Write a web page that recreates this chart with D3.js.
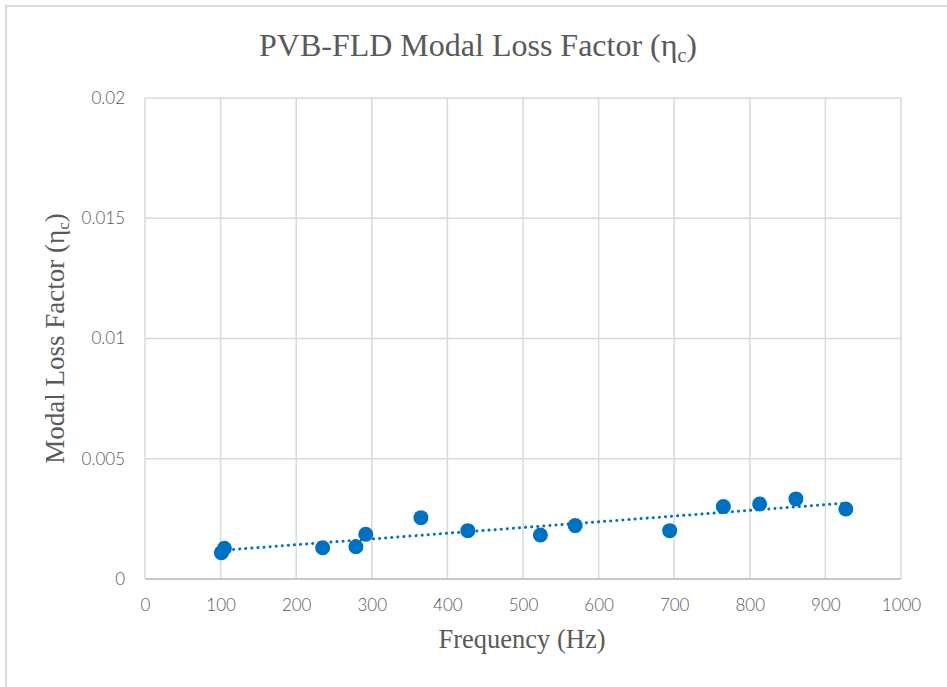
<!DOCTYPE html>
<html>
<head>
<meta charset="utf-8">
<script src="https://cdn.jsdelivr.net/npm/d3@7"></script>
<style>
  html, body { margin: 0; padding: 0; background: #fff; overflow: hidden; }
  svg { display: block; }
</style>
</head>
<body>
<script>
// ---- Data ----
const frequency = [101, 105, 235, 279, 292, 365, 427, 523, 569, 694, 765, 813, 861, 927];
const lossFactor = [0.00109, 0.00128, 0.00130, 0.00134, 0.00186, 0.00255, 0.00201, 0.00183, 0.00222, 0.00201, 0.00301, 0.00312, 0.00333, 0.00291];
const xTicks = [0, 100, 200, 300, 400, 500, 600, 700, 800, 900, 1000];
const yTicks = [0, 0.005, 0.01, 0.015, 0.02];
const yTickLabels = ["0", "0.005", "0.01", "0.015", "0.02"];
const titleText = "PVB-FLD Modal Loss Factor (η";
const titleSub = "c";
const xTitle = "Frequency (Hz)";
const yTitle = "Modal Loss Factor (η";

const W = 947, H = 687;
const margin = { left: 145, right: 46, top: 98, bottom: 108 };
const color = "#0070C0";
const textColor = "#595959";
const gridColor = "#d9d9d9";

const svg = d3.select("body").append("svg").attr("width", W).attr("height", H);

// chart border (only top/left visible in viewport)
svg.append("path")
  .attr("d", `M6,${H + 5} L6,6 L${W + 5},6`)
  .attr("fill", "none").attr("stroke", gridColor).attr("stroke-width", 2);

const x = d3.scaleLinear().domain([0, 1000]).range([margin.left, W - margin.right]);
const y = d3.scaleLinear().domain([0, 0.02]).range([H - margin.bottom, margin.top]);

// gridlines
svg.append("g").selectAll("line.v").data(xTicks).join("line")
  .attr("x1", d => x(d)).attr("x2", d => x(d))
  .attr("y1", y(0)).attr("y2", y(0.02))
  .attr("stroke", gridColor).attr("stroke-width", 1.5);
svg.append("g").selectAll("line.h").data(yTicks).join("line")
  .attr("x1", x(0)).attr("x2", x(1000))
  .attr("y1", d => y(d)).attr("y2", d => y(d))
  .attr("stroke", gridColor).attr("stroke-width", 1.5);
// bottom axis line
svg.append("line").attr("x1", x(0)).attr("x2", x(1000)).attr("y1", y(0)).attr("y2", y(0))
  .attr("stroke", "#bfbfbf").attr("stroke-width", 1.5);

// axes (labels only)
const xAxis = svg.append("g").attr("transform", `translate(0,${y(0)})`)
  .call(d3.axisBottom(x).tickValues(xTicks).tickSize(0).tickPadding(20).tickFormat(d3.format("d")));
const yAxis = svg.append("g").attr("transform", `translate(${x(0)},0)`)
  .call(d3.axisLeft(y).tickValues(yTicks).tickSize(0).tickPadding(20).tickFormat((d, i) => yTickLabels[i]));
[xAxis, yAxis].forEach(a => {
  a.select(".domain").remove();
  a.selectAll("text").attr("fill", textColor).style("font-family", "Lato, 'Open Sans', sans-serif").style("font-size", "17px").style("font-weight", 300);
});

// trendline (least-squares linear fit over data range)
const n = frequency.length;
const mx = d3.mean(frequency), my = d3.mean(lossFactor);
let sxy = 0, sxx = 0;
for (let i = 0; i < n; i++) { sxy += (frequency[i] - mx) * (lossFactor[i] - my); sxx += (frequency[i] - mx) ** 2; }
const slope = sxy / sxx, intercept = my - slope * mx;
const xr = d3.extent(frequency);
svg.append("line")
  .attr("x1", x(xr[0])).attr("y1", y(intercept + slope * xr[0]))
  .attr("x2", x(xr[1])).attr("y2", y(intercept + slope * xr[1]))
  .attr("stroke", color).attr("stroke-width", 3)
  .attr("stroke-dasharray", "0.1 6").attr("stroke-linecap", "round");

// markers
svg.append("g").selectAll("circle").data(frequency).join("circle")
  .attr("cx", d => x(d)).attr("cy", (d, i) => y(lossFactor[i]))
  .attr("r", 7.5).attr("fill", color);

// title
const t = svg.append("text").attr("x", 478).attr("y", 56).attr("text-anchor", "middle")
  .attr("fill", textColor).style("font-family", "'Liberation Serif', 'Times New Roman', serif").style("font-size", "32px");
t.append("tspan").text(titleText);
t.append("tspan").text(titleSub).attr("dy", 6).style("font-size", "20px");
t.append("tspan").text(")").attr("dy", -6);

// x title
svg.append("text").attr("x", x(500) - 1).attr("y", 648).attr("text-anchor", "middle")
  .attr("fill", textColor).style("font-family", "'Liberation Serif', 'Times New Roman', serif").style("font-size", "26.5px")
  .text(xTitle);

// y title
const yt = svg.append("text").attr("transform", `translate(64,${(y(0) + y(0.02)) / 2}) rotate(-90)`)
  .attr("text-anchor", "middle")
  .attr("fill", textColor).style("font-family", "'Liberation Serif', 'Times New Roman', serif").style("font-size", "27px");
yt.append("tspan").text(yTitle);
yt.append("tspan").text("c").attr("dy", 5).style("font-size", "17px");
yt.append("tspan").text(")").attr("dy", -5);
</script>
</body>
</html>
